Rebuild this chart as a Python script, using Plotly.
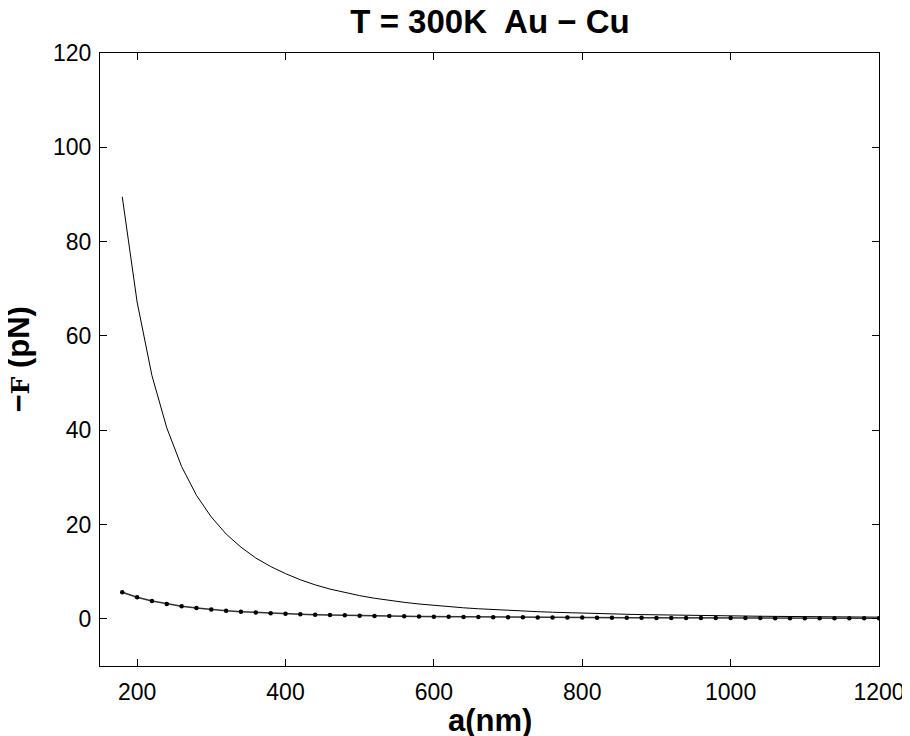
import plotly.graph_objects as go

a_nm = [180, 200, 220, 240, 260, 280, 300, 320, 340, 360, 380, 400, 420, 440, 460, 480,
        500, 520, 540, 560, 580, 600, 620, 640, 660, 680, 700, 720, 740, 760, 780, 800,
        820, 840, 860, 880, 900, 920, 940, 960, 980, 1000, 1020, 1040, 1060, 1080, 1100,
        1120, 1140, 1160, 1180, 1200]

force_solid = [89.5, 67.2, 51.6, 40.5, 32.3, 26.2, 21.6, 18.0, 15.2, 12.9, 11.1, 9.6,
               8.29, 7.21, 6.31, 5.56, 4.92, 4.37, 3.90, 3.50, 3.15, 2.84, 2.58, 2.34,
               2.14, 1.95, 1.79, 1.65, 1.52, 1.40, 1.29, 1.20, 1.11, 1.04, 0.97, 0.90,
               0.84, 0.79, 0.74, 0.69, 0.65, 0.61, 0.58, 0.55, 0.52, 0.49, 0.46, 0.44,
               0.41, 0.39, 0.37, 0.36]

force_dotted = [5.65, 4.6, 3.78, 3.15, 2.67, 2.28, 1.97, 1.72, 1.52, 1.35, 1.21, 1.08,
                0.98, 0.89, 0.81, 0.74, 0.68, 0.63, 0.58, 0.54, 0.50, 0.47, 0.44, 0.41,
                0.385, 0.36, 0.34, 0.32, 0.305, 0.29, 0.275, 0.26, 0.25, 0.235, 0.225,
                0.215, 0.205, 0.195, 0.19, 0.18, 0.175, 0.165, 0.16, 0.155, 0.15, 0.145,
                0.14, 0.135, 0.13, 0.125, 0.12, 0.12]

x_ticks = [200, 400, 600, 800, 1000, 1200]
y_ticks = [0, 20, 40, 60, 80, 100, 120]

FONT = "Liberation Sans, Arial, sans-serif"

fig = go.Figure()
fig.add_trace(go.Scatter(x=a_nm, y=force_solid, mode="lines",
                         line=dict(color="black", width=1), showlegend=False))
fig.add_trace(go.Scatter(x=a_nm, y=force_dotted, mode="lines+markers",
                         line=dict(color="#333333", width=1.5),
                         marker=dict(color="black", size=4.5, symbol="circle"),
                         showlegend=False))

axis_common = dict(showline=True, linecolor="black", linewidth=1.3, mirror="ticks",
                   ticks="inside", ticklen=7, tickcolor="black", tickwidth=1,
                   showgrid=False, zeroline=False, automargin=False,
                   tickfont=dict(family=FONT, size=23, color="black"))

fig.update_xaxes(range=[150, 1200], tickvals=x_ticks, ticklabelstandoff=5, **axis_common)
fig.update_yaxes(range=[-10, 120], tickvals=y_ticks, ticklabelstandoff=3, **axis_common)

fig.add_annotation(text="<b>a(nm)</b>", xref="paper", yref="paper", x=0.5, y=0,
                   xanchor="center", yanchor="middle", yshift=-54, showarrow=False,
                   font=dict(family=FONT, size=31, color="black"))
fig.add_annotation(text="<b>\u2212<span style='font-family:DejaVu Serif;font-size:25px'>F</span> (pN)</b>",
                   xref="paper", yref="paper", x=0, y=0.5, textangle=-90,
                   xanchor="center", yanchor="middle", xshift=-82, showarrow=False,
                   font=dict(family=FONT, size=31, color="black"))

fig.update_layout(
    width=910, height=736,
    margin=dict(l=92, r=39, t=45, b=78),
    paper_bgcolor="white", plot_bgcolor="white",
    title=dict(text="<b>T = 300K  Au \u2212 Cu</b>", x=0.5297, xanchor="center",
               y=0.982, yanchor="middle",
               font=dict(family=FONT, size=33, color="black")),
)

fig.write_html("out.html")
